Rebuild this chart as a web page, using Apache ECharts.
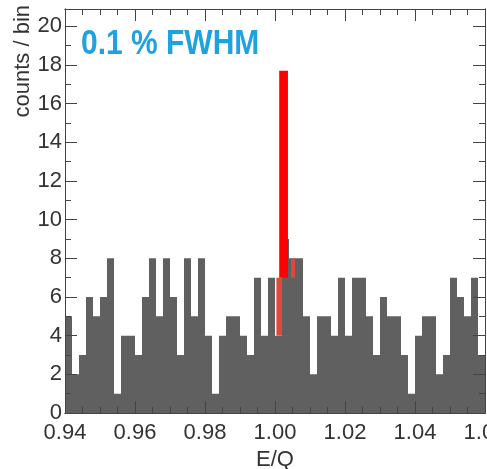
<!DOCTYPE html>
<html>
<head>
<meta charset="utf-8">
<title></title>
<style>
html, body {margin:0; padding:0; background:#fff;}
#main {width:487px; height:469px;}
</style>
<script src="https://cdn.jsdelivr.net/npm/echarts@6/dist/echarts.min.js"></script>
</head>
<body>
<div id="main"></div>
<script>
// gray histogram, 60 bins of 0.002 from 0.94
const binStart = 0.94;
const binWidth = 0.002;
const counts = [
  5, 2, 3, 6, 5, 6, 8, 1, 4, 4,
  3, 6, 8, 5, 8, 6, 3, 8, 5, 8,
  4, 1, 4, 5, 5, 4, 3, 7, 4, 7,
  4, 9, 8, 8, 5, 2, 5, 5, 4, 7,
  4, 7, 7, 5, 3, 6, 5, 5, 3, 1,
  4, 5, 5, 2, 3, 7, 6, 5, 7, 3
];
// red peak pieces: [from, to, low, high]
const peakBar = [[1.0012, 1.0037, 7, 17.7]];
const peakEdges = [[1.0004, 1.0020, 4, 7], [1.0046, 1.0057, 7, 8]];
const xRange = [0.94, 1.06];
const yRange = [0, 20.9];

const FONT = '"Liberation Sans", Arial, sans-serif';
const AX = '#444';

const steps = counts.map((c, i) => [binStart + i * binWidth, c]);
steps.push([binStart + counts.length * binWidth, counts[counts.length - 1]]);

function rectItem(params, api) {
  const a = api.coord([api.value(0), api.value(3)]);
  const b = api.coord([api.value(1), api.value(2)]);
  return {
    type: 'rect',
    shape: {x: a[0], y: a[1], width: b[0] - a[0], height: b[1] - a[1]},
    style: {fill: api.visual('color')}
  };
}

function xAx(pos, interval, len, labels) {
  return {
    type: 'value', position: pos, min: xRange[0], max: xRange[1], interval: interval, z: 10,
    axisLine: {show: true, onZero: false, lineStyle: {color: AX, width: 1}},
    axisTick: {show: true, inside: true, length: len, lineStyle: {color: AX}},
    splitLine: {show: false},
    axisLabel: {show: labels, margin: 9, fontSize: 22, color: '#333', fontFamily: FONT,
      formatter: v => v.toFixed(2)}
  };
}
function yAx(pos, interval, len, labels) {
  return {
    type: 'value', position: pos, min: yRange[0], max: yRange[1], interval: interval, z: 10,
    axisLine: {show: true, onZero: false, lineStyle: {color: AX, width: 1}},
    axisTick: {show: true, inside: true, length: len, lineStyle: {color: AX}},
    splitLine: {show: false},
    axisLabel: {show: labels, margin: 3, fontSize: 22, color: '#333', fontFamily: FONT,
      formatter: v => (v % 2 === 0 ? String(v) : '')}
  };
}

let chart = echarts.init(document.getElementById('main'));
let bottomX = xAx('bottom', 0.02, 12, true);
bottomX.name = 'E/Q';
bottomX.nameLocation = 'middle';
bottomX.nameGap = 27;
bottomX.nameTextStyle = {fontSize: 22, color: '#333', fontFamily: FONT};

chart.setOption({
  animation: false,
  grid: {left: 65, right: 2, top: 9, bottom: 56, containLabel: false, outerBoundsMode: 'none'},
  xAxis: [
    bottomX,
    xAx('bottom', 0.005, 6, false),
    xAx('top', 0.02, 12, false),
    xAx('top', 0.005, 6, false)
  ],
  yAxis: [
    yAx('left', 2, 12, true),
    yAx('left', 1, 6, false),
    yAx('right', 2, 12, false),
    yAx('right', 1, 6, false)
  ],
  series: [
    {
      type: 'line', step: 'end', data: steps, symbol: 'none', z: 2,
      lineStyle: {width: 0},
      areaStyle: {color: '#606060', opacity: 1}
    },
    {type: 'custom', renderItem: rectItem, data: peakEdges, itemStyle: {color: '#e0483c'}, z: 3},
    {type: 'custom', renderItem: rectItem, data: peakBar, itemStyle: {color: '#ff0000'}, z: 4}
  ],
  graphic: [
    {
      type: 'text', x: 81, y: 44, scaleY: 1.15, z: 20,
      style: {text: '0.1 % FWHM', fontSize: 30, fontWeight: 'bold', fontFamily: FONT,
        fill: '#1fa3e0', align: 'left', verticalAlign: 'middle'}
    },
    {
      type: 'text', x: 23, y: 5, rotation: Math.PI / 2, z: 20,
      style: {text: 'counts / bin', fontSize: 22, fontFamily: FONT,
        fill: '#333', align: 'right', verticalAlign: 'middle'}
    }
  ]
});
</script>
</body>
</html>
